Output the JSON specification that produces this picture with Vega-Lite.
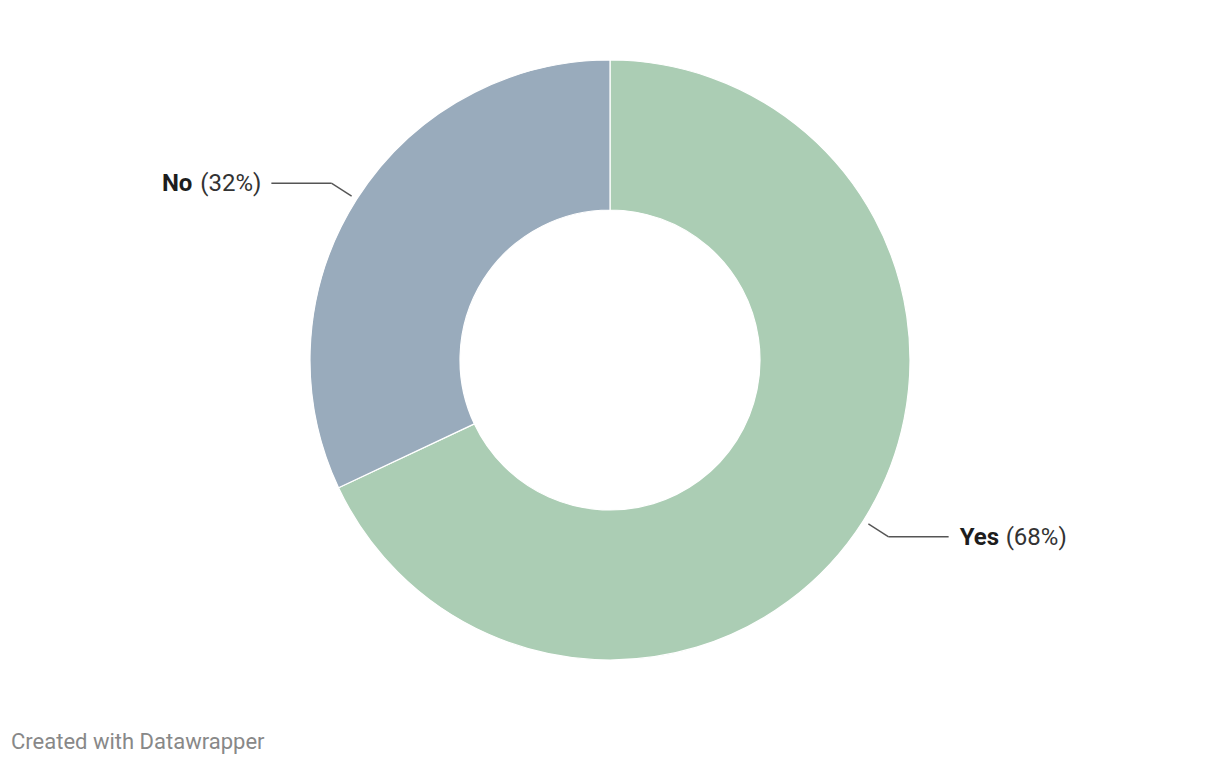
{
  "$schema": "https://vega.github.io/schema/vega-lite/v6.json",
  "width": 1220,
  "height": 720,
  "autosize": "none",
  "padding": {"left": 0, "top": 0, "right": 0, "bottom": 46},
  "background": "#ffffff",
  "view": {"stroke": null},
  "title": {
    "text": "Created with Datawrapper",
    "orient": "bottom",
    "anchor": "start",
    "frame": "group",
    "dx": 11,
    "offset": 12,
    "font": "Roboto",
    "fontSize": 22,
    "fontWeight": "normal",
    "color": "#888888"
  },
  "data": {
    "values": [
      {"answer": "Yes", "share": 68},
      {"answer": "No", "share": 32}
    ]
  },
  "transform": [
    {"stack": "share", "groupby": [], "sort": [{"field": "share", "order": "descending"}], "as": ["s0", "s1"]},
    {"calculate": "(datum.s0 + datum.s1) / 200 * 2 * PI", "as": "mid"},
    {"calculate": "sin(datum.mid)", "as": "sx"},
    {"calculate": "cos(datum.mid)", "as": "cy"},
    {"calculate": "306 * datum.sx", "as": "x1"},
    {"calculate": "306 * datum.cy", "as": "y1"},
    {"calculate": "330 * datum.sx", "as": "xe"},
    {"calculate": "330 * datum.cy", "as": "ye"},
    {"calculate": "datum.xe + (datum.sx < 0 ? -60 : 60)", "as": "xh"},
    {"calculate": "'(' + datum.share + '%)'", "as": "pct"}
  ],
  "layer": [
    {
      "mark": {"type": "arc", "outerRadius": 300, "innerRadius": 150, "stroke": "#ffffff", "strokeWidth": 1.2},
      "encoding": {
        "theta": {"field": "share", "type": "quantitative", "stack": true},
        "order": {"field": "share", "type": "quantitative", "sort": "descending"},
        "color": {
          "field": "answer",
          "type": "nominal",
          "scale": {"domain": ["Yes", "No"], "range": ["#abcdb4", "#99abbc"]},
          "legend": null
        }
      }
    },
    {
      "mark": {"type": "rule", "color": "#555555", "strokeWidth": 1.4},
      "encoding": {
        "x": {"field": "x1", "type": "quantitative", "scale": {"domain": [-610, 610], "nice": false, "zero": false}, "axis": null},
        "y": {"field": "y1", "type": "quantitative", "scale": {"domain": [-360, 360], "nice": false, "zero": false}, "axis": null},
        "x2": {"field": "xe"},
        "y2": {"field": "ye"}
      }
    },
    {
      "mark": {"type": "rule", "color": "#555555", "strokeWidth": 1.4},
      "encoding": {
        "x": {"field": "xe", "type": "quantitative"},
        "y": {"field": "ye", "type": "quantitative"},
        "x2": {"field": "xh"}
      }
    },
    {
      "transform": [{"filter": "datum.sx < 0"}],
      "layer": [
        {
          "mark": {"type": "text", "align": "right", "baseline": "middle", "font": "Roboto", "fontSize": 24, "fontWeight": "bold", "color": "#1d1d1d", "dx": -79, "dy": 1},
          "encoding": {
            "x": {"field": "xh", "type": "quantitative"},
            "y": {"field": "ye", "type": "quantitative"},
            "text": {"field": "answer"}
          }
        },
        {
          "mark": {"type": "text", "align": "right", "baseline": "middle", "font": "Roboto", "fontSize": 24, "color": "#333333", "dx": -10, "dy": 1},
          "encoding": {
            "x": {"field": "xh", "type": "quantitative"},
            "y": {"field": "ye", "type": "quantitative"},
            "text": {"field": "pct"}
          }
        }
      ]
    },
    {
      "transform": [{"filter": "datum.sx >= 0"}],
      "layer": [
        {
          "mark": {"type": "text", "align": "left", "baseline": "middle", "font": "Roboto", "fontSize": 24, "fontWeight": "bold", "color": "#1d1d1d", "dx": 11, "dy": 1},
          "encoding": {
            "x": {"field": "xh", "type": "quantitative"},
            "y": {"field": "ye", "type": "quantitative"},
            "text": {"field": "answer"}
          }
        },
        {
          "mark": {"type": "text", "align": "left", "baseline": "middle", "font": "Roboto", "fontSize": 24, "color": "#333333", "dx": 57, "dy": 1},
          "encoding": {
            "x": {"field": "xh", "type": "quantitative"},
            "y": {"field": "ye", "type": "quantitative"},
            "text": {"field": "pct"}
          }
        }
      ]
    }
  ]
}
